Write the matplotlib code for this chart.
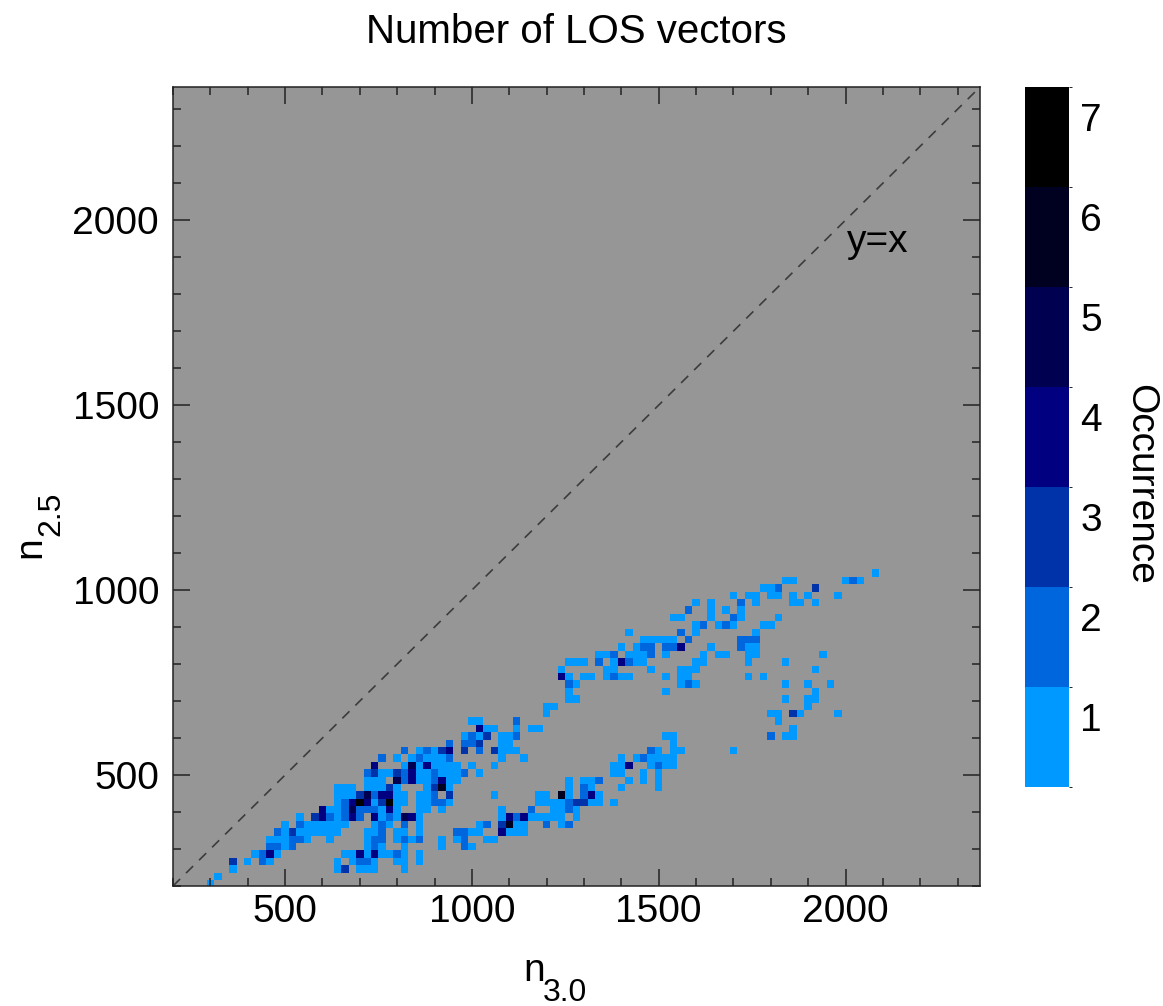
import numpy as np
import matplotlib.pyplot as plt
from matplotlib.colors import ListedColormap, BoundaryNorm
from matplotlib.ticker import MultipleLocator

plt.rcParams['font.family'] = ['Liberation Sans', 'DejaVu Sans']

# 2D histogram cells: n_2.5 bin centre of each row, n_3.0 bin centres and occurrence per row
row_n25 = [206, 226, 246, 266, 286, 306, 326, 346, 366, 386, 406, 426, 446, 466, 486,
           506, 526, 546, 566, 586, 606, 626, 646, 666, 686, 706, 726, 746, 766, 786,
           806, 826, 846, 866, 886, 906, 926, 946, 966, 986, 1006, 1026, 1046]

row_n30 = [
    [300],
    [320],
    [360, 640, 660, 700, 720, 740, 820],
    [360, 400, 440, 460, 640, 680, 700, 720, 740, 800, 820, 860],
    [420, 440, 460, 480, 660, 680, 700, 720, 740, 760, 780, 800, 820, 860],
    [460, 480, 500, 520, 720, 740, 760, 820, 920, 980, 1000],
    [460, 480, 500, 520, 540, 560, 620, 720, 740, 760, 800, 820, 840, 860, 920, 960, 980, 1040, 1060],
    [480, 500, 520, 540, 560, 580, 600, 620, 640, 720, 740, 760, 800, 820, 860, 960, 980, 1000, 1020,
     1080, 1100, 1120, 1140],
    [500, 540, 560, 580, 600, 620, 640, 660, 740, 760, 780, 820, 860, 1020, 1040, 1080, 1100, 1120, 1140,
     1200, 1240, 1260],
    [540, 580, 600, 620, 640, 660, 680, 700, 740, 760, 780, 800, 820, 840, 860, 1080, 1100, 1120, 1140,
     1160, 1180, 1200, 1220, 1240, 1280],
    [600, 620, 640, 660, 680, 700, 720, 740, 760, 780, 800, 860, 880, 920, 1080, 1160, 1220, 1240, 1260, 1280],
    [640, 660, 680, 700, 720, 740, 760, 780, 800, 820, 860, 880, 900, 920, 940, 1180, 1200, 1220, 1240,
     1260, 1280, 1300, 1320, 1340, 1380],
    [640, 660, 680, 700, 720, 740, 760, 780, 800, 820, 860, 880, 900, 940, 1060, 1180, 1200, 1240, 1260,
     1300, 1320, 1340],
    [640, 660, 680, 720, 740, 760, 780, 800, 880, 900, 920, 940, 1260, 1300, 1320, 1400, 1500],
    [720, 740, 760, 800, 820, 840, 860, 880, 900, 920, 940, 960, 1260, 1300, 1320, 1340, 1420, 1460, 1500],
    [720, 740, 760, 780, 800, 820, 840, 860, 880, 900, 920, 940, 960, 980, 1020, 1380, 1400, 1460, 1500],
    [740, 820, 840, 860, 880, 900, 920, 940, 960, 1000, 1060, 1380, 1400, 1420, 1480, 1500, 1520, 1540],
    [760, 800, 840, 860, 880, 900, 920, 940, 1080, 1140, 1400, 1440, 1460, 1480, 1500, 1520, 1540],
    [820, 860, 880, 900, 920, 940, 980, 1020, 1060, 1080, 1100, 1120, 1480, 1500, 1540, 1560, 1700],
    [940, 980, 1000, 1020, 1080, 1100, 1540],
    [980, 1000, 1020, 1040, 1080, 1100, 1120, 1520, 1540, 1800, 1840, 1860],
    [1020, 1040, 1060, 1120, 1160, 1180, 1860],
    [1000, 1020, 1120, 1820],
    [1200, 1800, 1820, 1860, 1880, 1980],
    [1200, 1220, 1900],
    [1260, 1280, 1840, 1900, 1920],
    [1260, 1520, 1920],
    [1260, 1280, 1560, 1580, 1600, 1840, 1900, 1960],
    [1240, 1260, 1300, 1320, 1360, 1380, 1400, 1420, 1520, 1560, 1580, 1740, 1780],
    [1240, 1360, 1380, 1480, 1560, 1580, 1600, 1920],
    [1260, 1280, 1300, 1340, 1380, 1400, 1420, 1440, 1460, 1600, 1620, 1740, 1840],
    [1340, 1360, 1380, 1420, 1440, 1460, 1480, 1520, 1620, 1660, 1680, 1740, 1760, 1940],
    [1400, 1440, 1460, 1480, 1520, 1540, 1560, 1640, 1720, 1740, 1760],
    [1460, 1480, 1500, 1520, 1540, 1580, 1720, 1740, 1760],
    [1420, 1560, 1600, 1760],
    [1600, 1620, 1660, 1680, 1700, 1780, 1800],
    [1540, 1560, 1640, 1700, 1720, 1820],
    [1580, 1640, 1680, 1720],
    [1600, 1640, 1720, 1760, 1860, 1880, 1920],
    [1700, 1740, 1760, 1800, 1820, 1860, 1900, 1980],
    [1780, 1800, 1820, 1920],
    [1840, 1860, 2000, 2020, 2040],
    [2080],
]

row_occ = [
    [1],
    [1],
    [1, 1, 3, 1, 1, 1, 1],
    [3, 1, 2, 1, 1, 1, 2, 2, 1, 1, 1, 1],
    [1, 2, 4, 1, 1, 1, 4, 1, 4, 1, 1, 2, 1, 1],
    [2, 2, 1, 2, 1, 2, 1, 1, 1, 2, 1],
    [1, 1, 1, 2, 2, 1, 1, 1, 2, 2, 1, 2, 1, 2, 1, 1, 2, 1, 1],
    [2, 1, 3, 1, 1, 1, 1, 1, 1, 1, 1, 2, 1, 1, 1, 2, 2, 1, 1, 4, 1, 1, 1],
    [1, 2, 1, 1, 1, 1, 1, 1, 1, 2, 1, 2, 1, 1, 2, 3, 6, 1, 1, 2, 1, 2],
    [1, 3, 4, 2, 1, 2, 4, 2, 4, 1, 2, 1, 5, 4, 1, 1, 4, 2, 4, 1, 1, 1, 1, 1, 1],
    [4, 1, 1, 2, 5, 2, 2, 2, 1, 4, 1, 1, 1, 1, 1, 2, 1, 1, 2, 1],
    [1, 2, 4, 7, 4, 1, 3, 7, 1, 1, 1, 1, 2, 2, 1, 1, 1, 1, 1, 2, 3, 3, 1, 1, 1],
    [1, 1, 1, 3, 5, 2, 4, 4, 1, 1, 1, 1, 2, 3, 1, 1, 1, 6, 1, 2, 4, 1],
    [1, 1, 1, 1, 1, 1, 3, 1, 1, 3, 6, 1, 1, 2, 1, 1, 1],
    [1, 1, 1, 5, 2, 4, 1, 1, 2, 4, 1, 1, 1, 1, 1, 2, 1, 1, 1],
    [2, 3, 1, 1, 3, 2, 4, 1, 1, 2, 1, 1, 1, 2, 1, 1, 1, 1, 1],
    [4, 1, 5, 1, 4, 1, 1, 1, 1, 1, 1, 1, 1, 4, 1, 2, 1, 1],
    [2, 1, 1, 2, 1, 1, 1, 2, 1, 1, 1, 1, 2, 1, 1, 1, 1],
    [2, 1, 2, 1, 3, 4, 3, 2, 3, 1, 1, 1, 2, 1, 1, 1, 1],
    [2, 2, 2, 3, 1, 1, 1],
    [1, 2, 1, 3, 1, 1, 2, 1, 1, 2, 1, 1],
    [4, 1, 1, 1, 1, 1, 1],
    [1, 1, 2, 1],
    [1, 1, 1, 3, 1, 1],
    [1, 1, 1],
    [1, 1, 1, 1, 1],
    [1, 1, 1],
    [2, 1, 1, 2, 1, 1, 1, 1],
    [4, 1, 1, 1, 1, 2, 1, 1, 1, 1, 1, 1, 1],
    [1, 1, 1, 1, 1, 1, 1, 1],
    [1, 1, 1, 2, 1, 4, 2, 1, 1, 1, 1, 1, 1],
    [1, 1, 2, 1, 1, 1, 2, 1, 1, 1, 1, 1, 1, 1],
    [1, 1, 2, 2, 2, 2, 4, 1, 2, 1, 1],
    [1, 1, 1, 1, 1, 2, 2, 2, 2],
    [1, 2, 1, 1],
    [1, 2, 1, 2, 1, 1, 1],
    [1, 1, 1, 2, 1, 1],
    [2, 1, 1, 1],
    [1, 1, 2, 1, 1, 1, 1],
    [1, 1, 1, 1, 1, 1, 1, 1],
    [1, 1, 2, 3],
    [1, 1, 1, 2, 1],
    [1],
]

occ_levels = [1, 2, 3, 4, 5, 6, 7]
occ_colors = ['#0099ff', '#0066dd', '#0033aa', '#000080', '#000050', '#000020', '#000000']

# flatten the rows into point lists
n30 = []
n25 = []
occ = []
for y, xs, cs in zip(row_n25, row_n30, row_occ):
    assert len(xs) == len(cs)
    n30 += xs
    n25 += [y] * len(xs)
    occ += cs

x_edges = np.arange(290, 2130, 20)
y_edges = np.arange(196, 1116, 20)
H, _, _ = np.histogram2d(n30, n25, bins=[x_edges, y_edges], weights=occ)
H = np.ma.masked_equal(H.T, 0)

cmap = ListedColormap(occ_colors)
norm = BoundaryNorm(np.arange(0.5, 8.0, 1.0), cmap.N)

W, Hpx = 1163, 1006
fig = plt.figure(figsize=(W / 100, Hpx / 100), dpi=100)
ax = fig.add_axes([173 / W, 1 - 886 / Hpx, 807 / W, 799 / Hpx])
ax.set_facecolor('#969696')

mesh = ax.pcolormesh(x_edges, y_edges, H, cmap=cmap, norm=norm)
ax.plot([200, 2360], [200, 2360], linestyle=(0, (6, 5)), color='#3c3c3c', lw=1.2)
ax.text(2005, 1940, 'y=x', fontsize=28, va='center', ha='left')

ax.set_xlim(200, 2360)
ax.set_ylim(200, 2360)
ax.set_xticks([500, 1000, 1500, 2000])
ax.set_yticks([500, 1000, 1500, 2000])
ax.xaxis.set_minor_locator(MultipleLocator(100))
ax.yaxis.set_minor_locator(MultipleLocator(100))
ax.tick_params(which='both', direction='in', top=True, right=True, width=1.1, color='#222222')
ax.tick_params(which='major', length=12, labelsize=28)
ax.tick_params(which='minor', length=6)
ax.tick_params(axis='x', pad=6)
ax.tick_params(axis='y', pad=10)
for sp in ax.spines.values():
    sp.set_linewidth(1.1)
    sp.set_color('#222222')

ax.set_title('Number of LOS vectors', fontsize=29, pad=32)

# axis labels with dropped subscripts
fig.text(523 / W, 1 - 981 / Hpx, 'n', fontsize=28, ha='left', va='baseline')
fig.text(543 / W, 1 - 1001 / Hpx, '3.0', fontsize=23, ha='left', va='baseline')
fig.text(40 / W, 1 - 558 / Hpx, 'n', fontsize=28, ha='left', va='baseline',
         rotation=90, rotation_mode='anchor')
fig.text(59 / W, 1 - 536 / Hpx, '2.5', fontsize=23, ha='left', va='baseline',
         rotation=90, rotation_mode='anchor')

cax = fig.add_axes([1025 / W, 1 - 787 / Hpx, 44 / W, 700 / Hpx])
cb = fig.colorbar(mesh, cax=cax)
cb.set_ticks([v + 0.2 for v in occ_levels], labels=[str(v) for v in occ_levels])
cb.outline.set_visible(False)
cax.tick_params(length=0, labelsize=28, pad=8)
fig.text(1140 / W, 1 - 484 / Hpx, 'Occurrence', rotation=270, fontsize=28,
         ha='center', va='center')

fig.savefig('out.png', dpi=100)
